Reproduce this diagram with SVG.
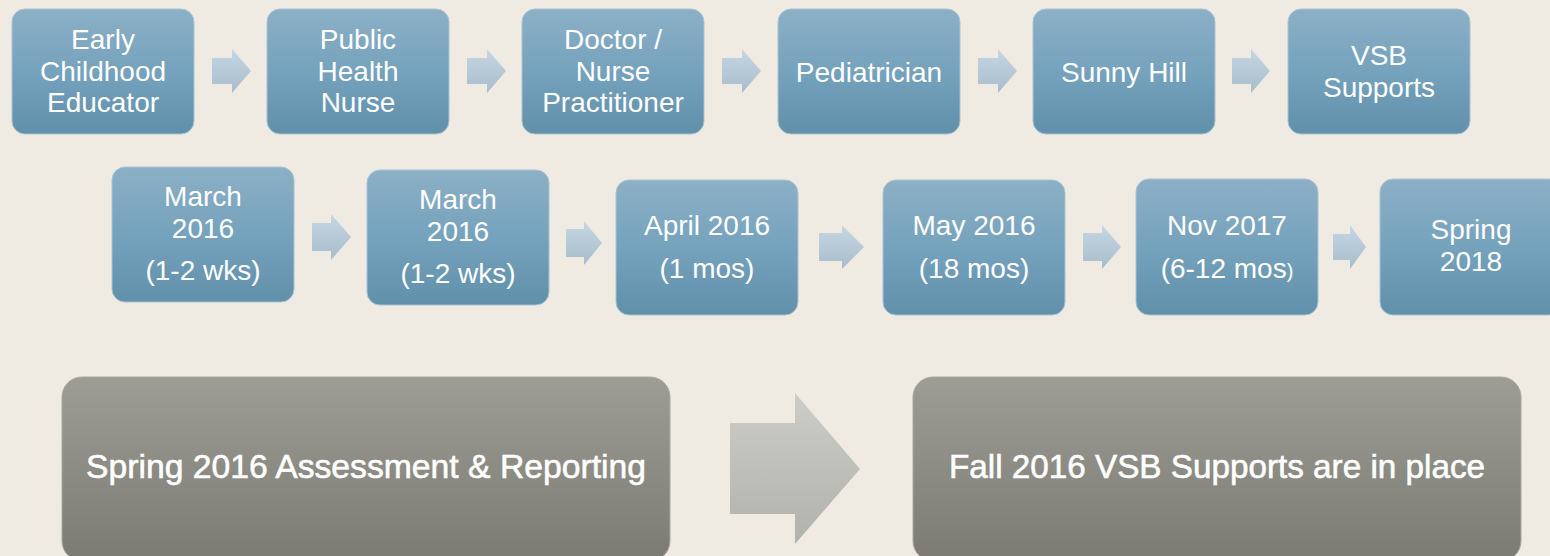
<svg xmlns="http://www.w3.org/2000/svg" width="1550" height="556" viewBox="0 0 1550 556">
<defs>
<linearGradient id="gb" x1="0" y1="0" x2="0" y2="1">
<stop offset="0" stop-color="#8cb0c6"/>
<stop offset="0.5" stop-color="#75a2bc"/>
<stop offset="1" stop-color="#6190aa"/>
</linearGradient>
<linearGradient id="ga" x1="0" y1="0" x2="0" y2="1">
<stop offset="0" stop-color="#c6d7e3"/>
<stop offset="1" stop-color="#a8bccb"/>
</linearGradient>
<linearGradient id="gg" x1="0" y1="0" x2="0" y2="1">
<stop offset="0" stop-color="#9d9d95"/>
<stop offset="1" stop-color="#7b7b73"/>
</linearGradient>
<linearGradient id="gga" x1="0" y1="0" x2="0" y2="1">
<stop offset="0" stop-color="#cdcdc8"/>
<stop offset="1" stop-color="#b2b2ac"/>
</linearGradient>
</defs>
<style>
.b{fill:url(#gb);stroke:#a9c3d3;stroke-width:1}
.a{fill:url(#ga)}
.g{fill:url(#gg);stroke:#a8a8a0;stroke-width:1}
.ga{fill:url(#gga)}
text{font-family:"Liberation Sans",Arial,sans-serif;fill:#ffffff;text-anchor:middle}
.t{font-size:28px}
.big{font-size:34px;stroke:#ffffff;stroke-width:0.6}
</style>
<rect x="0" y="0" width="1550" height="556" fill="#efebe3"/>

<g id="connectors">
<path class="a" d="M212 58H232V49L251 71L232 93V84H212Z"/>
<path class="a" d="M467 58H487V49L506 71L487 93V84H467Z"/>
<path class="a" d="M722 58H742V49L761 71L742 93V84H722Z"/>
<path class="a" d="M978 58H998V49L1017 71L998 93V84H978Z"/>
<path class="a" d="M1232 58H1251V49L1270 71L1251 93V84H1232Z"/>

<path class="a" d="M312 223H331V214L351 237L331 260V251H312Z"/>
<path class="a" d="M566 229H584V221L602 243L584 265V257H566Z"/>
<path class="a" d="M819 233H842V225L864 247L842 269V261H819Z"/>
<path class="a" d="M1083 233H1102V225L1121 247L1102 269V261H1083Z"/>
<path class="a" d="M1333 234H1350V225L1366 247L1350 269V260H1333Z"/>

<path class="ga" d="M730 423H795V393L860 469L795 544V514H730Z"/>
</g>

<g id="n1"><rect class="b" x="12" y="9" width="182" height="125" rx="13"/>
<text class="t" x="103" y="49">Early</text><text class="t" x="103" y="81">Childhood</text><text class="t" x="103" y="112">Educator</text></g>
<g id="n2"><rect class="b" x="267" y="9" width="182" height="125" rx="13"/>
<text class="t" x="358" y="49">Public</text><text class="t" x="358" y="81">Health</text><text class="t" x="358" y="112">Nurse</text></g>
<g id="n3"><rect class="b" x="522" y="9" width="182" height="125" rx="13"/>
<text class="t" x="613" y="49">Doctor /</text><text class="t" x="613" y="81">Nurse</text><text class="t" x="613" y="112">Practitioner</text></g>
<g id="n4"><rect class="b" x="778" y="9" width="182" height="125" rx="13"/>
<text class="t" x="869" y="82">Pediatrician</text></g>
<g id="n5"><rect class="b" x="1033" y="9" width="182" height="125" rx="13"/>
<text class="t" x="1124" y="82">Sunny Hill</text></g>
<g id="n6"><rect class="b" x="1288" y="9" width="182" height="125" rx="13"/>
<text class="t" x="1379" y="65">VSB</text><text class="t" x="1379" y="97">Supports</text></g>

<g id="m1"><rect class="b" x="112" y="167" width="182" height="135" rx="13"/>
<text class="t" x="203" y="206">March</text><text class="t" x="203" y="238">2016</text><text class="t" x="203" y="280">(1-2 wks)</text></g>
<g id="m2"><rect class="b" x="367" y="170" width="182" height="135" rx="13"/>
<text class="t" x="458" y="209">March</text><text class="t" x="458" y="241">2016</text><text class="t" x="458" y="283">(1-2 wks)</text></g>
<g id="m3"><rect class="b" x="616" y="180" width="182" height="135" rx="13"/>
<text class="t" x="707" y="235">April 2016</text><text class="t" x="707" y="278">(1 mos)</text></g>
<g id="m4"><rect class="b" x="883" y="180" width="182" height="135" rx="13"/>
<text class="t" x="974" y="235">May 2016</text><text class="t" x="974" y="278">(18 mos)</text></g>
<g id="m5"><rect class="b" x="1136" y="179" width="182" height="136" rx="13"/>
<text class="t" x="1227" y="235">Nov 2017</text><text class="t" x="1227" y="278">(6-12 mos<tspan font-size="20">)</tspan></text></g>
<g id="m6"><rect class="b" x="1380" y="179" width="182" height="136" rx="13"/>
<text class="t" x="1471" y="239">Spring</text><text class="t" x="1471" y="271">2018</text></g>

<g id="s1"><rect class="g" x="62" y="377" width="608" height="184" rx="20"/>
<text class="big" x="366" y="478" textLength="560" lengthAdjust="spacingAndGlyphs">Spring 2016 Assessment &amp; Reporting</text></g>
<g id="s2"><rect class="g" x="913" y="377" width="608" height="184" rx="20"/>
<text class="big" x="1217" y="478" textLength="536" lengthAdjust="spacingAndGlyphs">Fall 2016 VSB Supports are in place</text></g>
</svg>
